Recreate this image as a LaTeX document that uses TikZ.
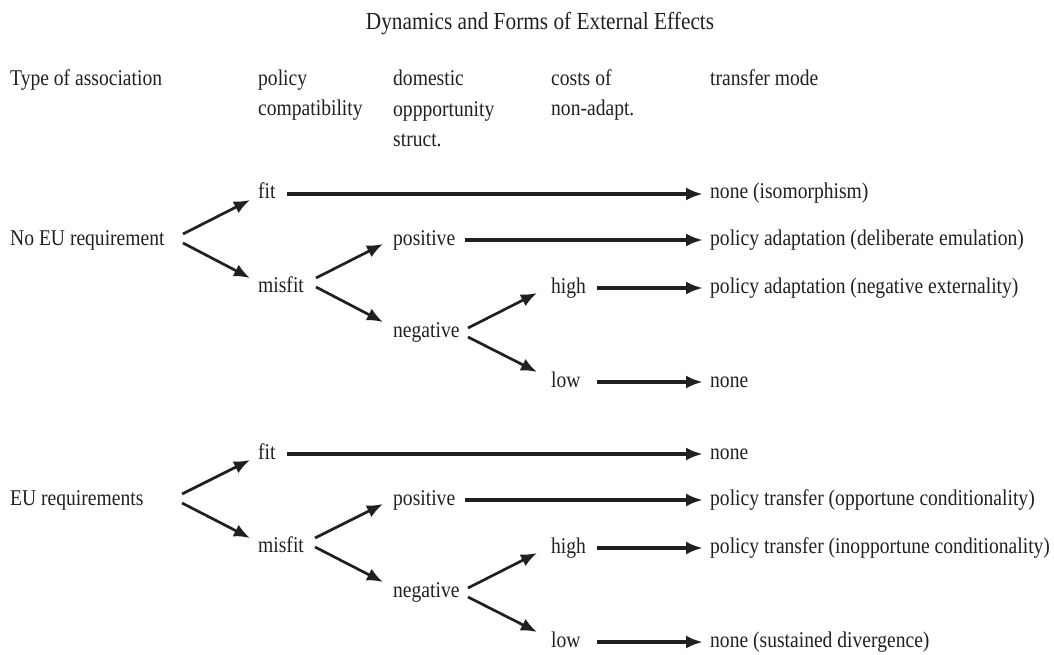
\documentclass[tikz,border=0pt]{standalone}
\usepackage{fontspec}
\setmainfont{Liberation Serif}[FakeStretch=0.87]
\usetikzlibrary{arrows.meta}
\definecolor{ink}{RGB}{35,31,32}
\tikzset{
  lbl/.style={anchor=base west, inner sep=0pt, text=ink},
  hdr/.style={lbl, align=left},
  branch/.style={-{Latex[length=16pt,width=13pt]}, line width=2.7pt, draw=ink},
  lead/.style={-{Latex[length=17pt,width=13pt]}, line width=3.4pt, draw=ink},
}
\begin{document}
\begin{tikzpicture}[x=1pt, y=1pt, font=\fontsize{22.5}{30.5}\selectfont]
  \useasboundingbox (0,0) rectangle (1054,-655);
  \node[anchor=base, inner sep=0pt, text=ink, font=\fontsize{24.5}{28}\selectfont] (title) at (540,-30) {Dynamics and Forms of External Effects};

  % column heads (base = last line)
  \node[hdr] (h1) at (10,-86) {Type of association};
  \node[hdr] (h2) at (258,-116) {policy\\compatibility};
  \node[hdr] (h3) at (393,-147) {domestic\\oppportunity\\struct.};
  \node[hdr] (h4) at (551,-116) {costs of\\non-adapt.};
  \node[hdr] (h5) at (710,-86) {transfer mode};

  % no EU requirement
  \node[lbl] (noeu) at (10,-245) {No EU requirement};
  \node[lbl] (fitA) at (258,-199) {fit};
  \node[lbl] (misfitA) at (258,-292) {misfit};
  \node[lbl] (posA) at (393,-245) {positive};
  \node[lbl] (negA) at (393,-337) {negative};
  \node[lbl] (highA) at (551,-293) {high};
  \node[lbl] (lowA) at (551,-387) {low};
  \node[lbl] (isoA) at (710,-199) {none (isomorphism)};
  \node[lbl] (emulA) at (710,-245) {policy adaptation (deliberate emulation)};
  \node[lbl] (extA) at (710,-293) {policy adaptation (negative externality)};
  \node[lbl] (noneA) at (710,-387) {none};

  \draw[branch] ([shift={(173,11)}]noeu.base west) -- ([shift={(-8,-1)}]fitA.base west);
  \draw[branch] ([shift={(173,2)}]noeu.base west) -- ([shift={(-8,14)}]misfitA.base west);
  \draw[branch] ([shift={(58,14)}]misfitA.base west) -- ([shift={(-10,1)}]posA.base west);
  \draw[branch] ([shift={(58,5)}]misfitA.base west) -- ([shift={(-10,15)}]negA.base west);
  \draw[branch] ([shift={(75,9)}]negA.base west) -- ([shift={(-14,0)}]highA.base west);
  \draw[branch] ([shift={(75,0)}]negA.base west) -- ([shift={(-14,15)}]lowA.base west);
  \draw[lead] ([shift={(29,5)}]fitA.base west) -- ([shift={(-7,5)}]isoA.base west);
  \draw[lead] ([shift={(72,5)}]posA.base west) -- ([shift={(-7,5)}]emulA.base west);
  \draw[lead] ([shift={(46,5)}]highA.base west) -- ([shift={(-7,5)}]extA.base west);
  \draw[lead] ([shift={(46,5)}]lowA.base west) -- ([shift={(-7,5)}]noneA.base west);

  % EU requirements
  \node[lbl] (eu) at (10,-505) {EU requirements};
  \node[lbl] (fitB) at (258,-459) {fit};
  \node[lbl] (misfitB) at (258,-552) {misfit};
  \node[lbl] (posB) at (393,-505) {positive};
  \node[lbl] (negB) at (393,-597) {negative};
  \node[lbl] (highB) at (551,-553) {high};
  \node[lbl] (lowB) at (551,-647) {low};
  \node[lbl] (noneB) at (710,-459) {none};
  \node[lbl] (oppB) at (710,-505) {policy transfer (opportune conditionality)};
  \node[lbl] (inoppB) at (710,-553) {policy transfer (inopportune conditionality)};
  \node[lbl] (divB) at (710,-647) {none (sustained divergence)};

  \draw[branch] ([shift={(172,11)}]eu.base west) -- ([shift={(-8,-1)}]fitB.base west);
  \draw[branch] ([shift={(172,2)}]eu.base west) -- ([shift={(-8,14)}]misfitB.base west);
  \draw[branch] ([shift={(57,14)}]misfitB.base west) -- ([shift={(-10,1)}]posB.base west);
  \draw[branch] ([shift={(57,5)}]misfitB.base west) -- ([shift={(-10,15)}]negB.base west);
  \draw[branch] ([shift={(75,9)}]negB.base west) -- ([shift={(-14,0)}]highB.base west);
  \draw[branch] ([shift={(75,0)}]negB.base west) -- ([shift={(-14,15)}]lowB.base west);
  \draw[lead] ([shift={(29,5)}]fitB.base west) -- ([shift={(-7,5)}]noneB.base west);
  \draw[lead] ([shift={(72,5)}]posB.base west) -- ([shift={(-7,5)}]oppB.base west);
  \draw[lead] ([shift={(46,5)}]highB.base west) -- ([shift={(-7,5)}]inoppB.base west);
  \draw[lead] ([shift={(46,5)}]lowB.base west) -- ([shift={(-7,5)}]divB.base west);
\end{tikzpicture}
\end{document}
